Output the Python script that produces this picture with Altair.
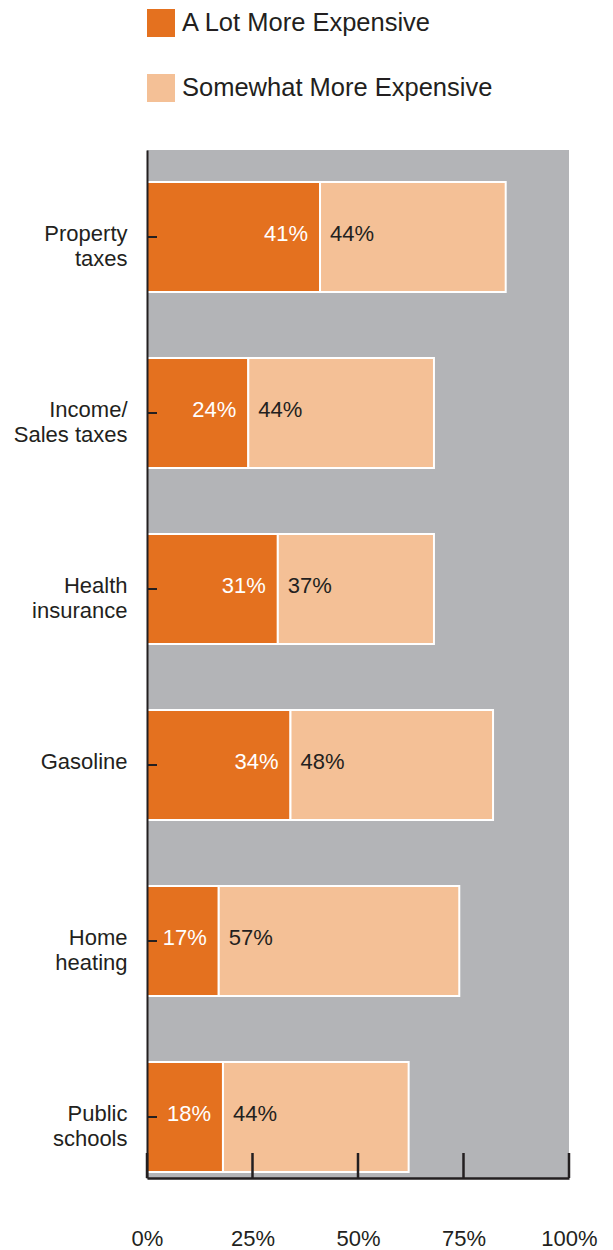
import altair as alt
import pandas as pd

categories = ["Property\ntaxes", "Income/\nSales taxes", "Health\ninsurance",
              "Gasoline", "Home\nheating", "Public\nschools"]
a_lot = [41, 24, 31, 34, 17, 18]
somewhat = [44, 44, 37, 48, 57, 44]
series_names = ["A Lot More Expensive", "Somewhat More Expensive"]
series_colors = ["#E4711F", "#F4C096"]
x_ticks = [0, 25, 50, 75, 100]

W, H = 422, 1028
DARK = "#231F20"
FONT = "Liberation Sans"

wide = pd.DataFrame({"cat": categories, "lot": a_lot, "some": somewhat})
rows = []
for c, l, s in zip(categories, a_lot, somewhat):
    rows.append({"cat": c, "series": series_names[0], "value": l, "ord": 0})
    rows.append({"cat": c, "series": series_names[1], "value": s, "ord": 1})
long = pd.DataFrame(rows)
ticks_df = pd.DataFrame({"t": x_ticks})

yscale = alt.Scale(domain=categories, paddingInner=0.375, paddingOuter=0.108, align=0.842)
xscale = alt.Scale(domain=[0, 100], nice=False, zero=True)

bars = alt.Chart(long).mark_bar(stroke="white", strokeWidth=2).encode(
    y=alt.Y("cat:N", scale=yscale, sort=categories,
            axis=alt.Axis(title=None, labelExpr="split(datum.label, '\\n')",
                          labelFont=FONT, labelFontSize=22, labelColor=DARK,
                          labelLineHeight=25, tickSize=0, labelPadding=20,
                          labelOffset=-3, zindex=2,
                          domainColor=DARK, domainWidth=2)),
    x=alt.X("value:Q", stack="zero", scale=xscale,
            axis=alt.Axis(title=None, values=x_ticks, labelExpr="datum.value + '%'",
                          labelFont=FONT, labelFontSize=22, labelColor=DARK,
                          labelFlush=False, zindex=2,
                          tickSize=0, labelPadding=50, domainColor=DARK,
                          domainWidth=2.5, grid=False)),
    color=alt.Color("series:N", scale=alt.Scale(domain=series_names, range=series_colors),
                    legend=alt.Legend(title=None, orient="none", legendX=0, legendY=-141,
                                      padding=0, symbolType="square", symbolSize=784,
                                      symbolStrokeWidth=0, labelFont=FONT,
                                      labelFontSize=25.5, labelColor=DARK, labelOffset=7,
                                      labelLimit=0,
                                      rowPadding=37, direction="vertical")),
    order=alt.Order("ord:Q"),
)

lab_lot = alt.Chart(wide).transform_calculate(lbl="datum.lot + '%'").mark_text(
    align="right", baseline="middle", dx=-12, dy=-3, font=FONT, fontSize=22, color="white"
).encode(y=alt.Y("cat:N", sort=categories), x=alt.X("lot:Q"), text="lbl:N")

lab_some = alt.Chart(wide).transform_calculate(lbl="datum.some + '%'").mark_text(
    align="left", baseline="middle", dx=10, dy=-3, font=FONT, fontSize=22, color=DARK
).encode(y=alt.Y("cat:N", sort=categories), x=alt.X("lot:Q"), text="lbl:N")

ytick = alt.Chart(wide).mark_rule(color=DARK, strokeWidth=2).encode(
    y=alt.Y("cat:N", sort=categories), x=alt.value(0), x2=alt.value(10))

xtick = alt.Chart(ticks_df).mark_rule(color=DARK, strokeWidth=2.5).encode(
    x=alt.X("t:Q"), y=alt.value(H - 25), y2=alt.value(H))

chart = alt.layer(bars, lab_lot, lab_some, ytick, xtick).properties(
    width=W, height=H,
    autosize=alt.AutoSizeParams(type="none"),
    padding={"left": 147, "top": 150, "right": 44, "bottom": 72},
).configure_view(stroke=None, fill="#B3B4B7")

chart.save("out.html", embed_options={"renderer": "svg", "actions": False})
